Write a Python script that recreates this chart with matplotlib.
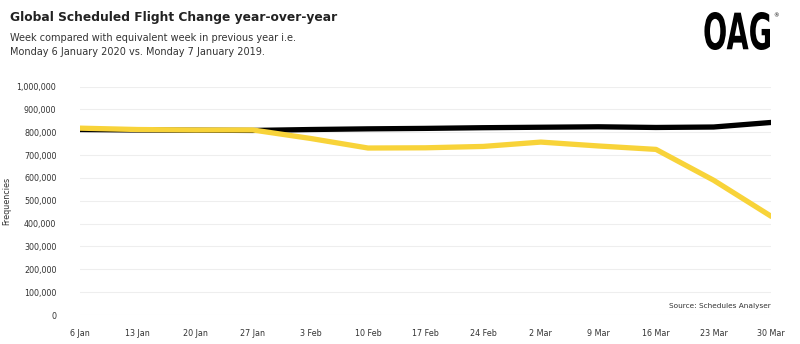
import numpy as np
import matplotlib.pyplot as plt
from matplotlib.ticker import FuncFormatter
from matplotlib.textpath import TextPath
from matplotlib.patches import PathPatch
from matplotlib.path import Path
from matplotlib.font_manager import FontProperties

weeks = ["6 Jan", "13 Jan", "20 Jan", "27 Jan", "3 Feb", "10 Feb", "17 Feb",
         "24 Feb", "2 Mar", "9 Mar", "16 Mar", "23 Mar", "30 Mar"]
flights_2019 = [812000, 810000, 809000, 808000, 812000, 815000, 817000,
                820000, 822000, 824000, 821000, 823000, 843000]
flights_2020 = [818000, 812000, 810000, 810000, 773000, 731000, 732000,
                738000, 757000, 740000, 725000, 590000, 432000]
y_ticks = np.arange(0, 1000001, 100000)

fig = plt.figure(figsize=(8, 3.44), dpi=100)
ax = fig.add_axes([0.1, 0.0843, 0.864, 0.664])

x = np.arange(len(weeks))
ax.plot(x, flights_2019, color="black", lw=3.8, solid_capstyle="round", zorder=3)
ax.plot(x, flights_2020, color="#F8D339", lw=3.8, solid_capstyle="round", zorder=4)

ax.set_xlim(0, len(weeks) - 1)
ax.set_ylim(0, 1000000)
ax.set_yticks(y_ticks)
ax.yaxis.set_major_formatter(FuncFormatter(lambda v, p: f"{int(v):,}"))
ax.set_xticks(x)
ax.set_xticklabels(weeks)
ax.tick_params(axis="both", length=0, labelsize=5.8, colors="#333333")
ax.tick_params(axis="x", pad=10)
ax.tick_params(axis="y", pad=17)
for s in ax.spines.values():
    s.set_visible(False)
ax.grid(axis="y", color="#eeeeee", lw=0.8)
ax.set_axisbelow(True)
ax.set_ylabel("Frequencies", fontsize=5.8, color="#333333", labelpad=4)

ax.text(1.0, 0.04, "Source: Schedules Analyser", transform=ax.transAxes,
        ha="right", va="center", fontsize=5.3, color="#333333")

fig.text(0.0125, 0.948, "Global Scheduled Flight Change year-over-year",
         fontsize=8.8, fontweight="bold", color="#222222", va="center")
fig.text(0.0125, 0.87, "Week compared with equivalent week in previous year i.e.\n"
         "Monday 6 January 2020 vs. Monday 7 January 2019.",
         fontsize=7, color="#333333", va="center", linespacing=1.45)

# OAG logo: bold text squeezed horizontally into a narrow box
tp = TextPath((0, 0), "OAG", size=10, prop=FontProperties(family="DejaVu Sans", weight="bold"))
v = tp.vertices.copy()
x0, y0 = v.min(axis=0)
x1, y1 = v.max(axis=0)
box_l, box_b, box_w, box_h = 703 / 800, 294 / 344, 67 / 800, 38 / 344
v[:, 0] = box_l + (v[:, 0] - x0) / (x1 - x0) * box_w
v[:, 1] = box_b + (v[:, 1] - y0) / (y1 - y0) * box_h
logo = PathPatch(Path(v, tp.codes), transform=fig.transFigure, fc="black", ec="none")
fig.add_artist(logo)
fig.text(0.967, 0.955, "®", fontsize=4, color="black", va="center", ha="left")

fig.savefig("out.png", dpi=100)
